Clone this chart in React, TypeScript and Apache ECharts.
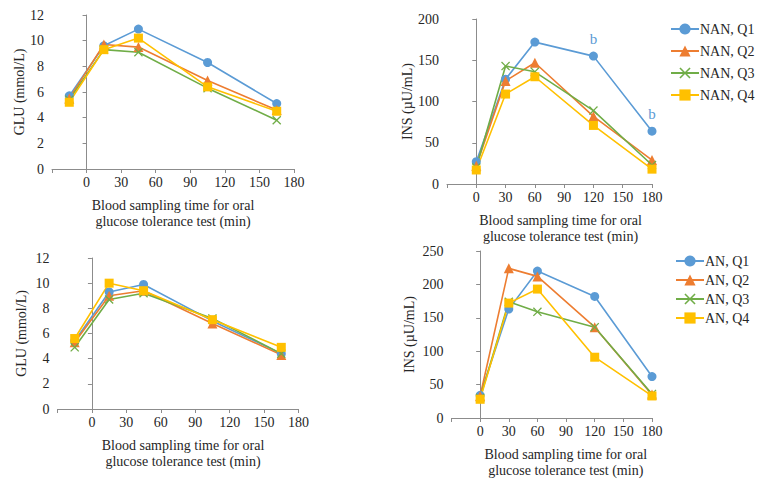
import React, { useEffect, useRef } from "react";
import * as echarts from "echarts";

// Sampling times as plotted
const glucoseTimes = [-15, 15, 45, 105, 165];
const insulinTimes = [0, 30, 60, 120, 180];

// Legend names
const nanNames = ["NAN, Q1", "NAN, Q2", "NAN, Q3", "NAN, Q4"];
const anNames = ["AN, Q1", "AN, Q2", "AN, Q3", "AN, Q4"];

// NAN glucose (mmol/L)
const nanGluQ1 = [5.7, 9.6, 10.9, 8.3, 5.1];
const nanGluQ2 = [5.5, 9.7, 9.5, 6.9, 4.6];
const nanGluQ3 = [5.4, 9.3, 9.1, 6.3, 3.8];
const nanGluQ4 = [5.2, 9.3, 10.2, 6.4, 4.5];

// NAN insulin (µU/mL)
const nanInsQ1 = [27, 127, 172, 155, 64];
const nanInsQ2 = [22, 125, 147, 82, 29];
const nanInsQ3 = [20, 143, 136, 89, 23];
const nanInsQ4 = [17, 109, 130, 71, 18];
const nanInsQ1Marks = ["", "", "", "b", "b"];

// AN glucose (mmol/L)
const anGluQ1 = [5.4, 9.3, 9.9, 7.0, 4.4];
const anGluQ2 = [5.3, 9.0, 9.4, 6.8, 4.3];
const anGluQ3 = [4.9, 8.7, 9.2, 7.2, 4.4];
const anGluQ4 = [5.6, 10.0, 9.4, 7.1, 4.9];

// AN insulin (µU/mL)
const anInsQ1 = [34, 163, 220, 182, 62];
const anInsQ2 = [33, 224, 212, 136, 35];
const anInsQ3 = [30, 174, 159, 136, 36];
const anInsQ4 = [28, 172, 193, 91, 33];

const COLORS = ["#5B9BD5", "#ED7D31", "#70AD47", "#FFC000"];
const XSYM =
  "path://M0,1L1,0L5,4L9,0L10,1L6,5L10,9L9,10L5,6L1,10L0,9L4,5Z";
const SYMBOLS = ["circle", "triangle", XSYM, "rect"];
const SIZES = [9, 10, 9, 9];
const FONT = "'Liberation Serif', 'Times New Roman', serif";
const TEXT = "#262626";
const AXIS = "#8c8c8c";

const xName = "Blood sampling time for oral\nglucose tolerance test (min)";

function makeSeries(
  name: string,
  idx: number,
  axisIdx: number,
  xs: number[],
  ys: number[],
  marks?: string[]
) {
  return {
    type: "line",
    name,
    xAxisIndex: axisIdx,
    yAxisIndex: axisIdx,
    symbol: SYMBOLS[idx],
    symbolSize: SIZES[idx],
    showAllSymbol: true,
    color: COLORS[idx],
    lineStyle: { width: 1.6, color: COLORS[idx] },
    itemStyle: { color: COLORS[idx] },
    data: xs.map((x, i) => {
      const item: any = { value: [x, ys[i]] };
      if (marks && marks[i]) {
        item.label = {
          show: true,
          formatter: marks[i],
          position: "top",
          distance: 5,
          color: COLORS[idx],
          fontFamily: FONT,
          fontSize: 15,
        };
      }
      return item;
    }),
  };
}

function xAxis(gridIndex: number, min: number, shift: number) {
  return {
    type: "value",
    gridIndex,
    min,
    max: 180,
    interval: 30,
    name: xName,
    nameLocation: "middle",
    nameGap: 28,
    nameTextStyle: {
      fontFamily: FONT,
      fontSize: 14,
      color: TEXT,
      lineHeight: 16,
      padding: [0, 0, 0, shift],
    },
    axisLine: { show: true, onZero: false, lineStyle: { color: AXIS, width: 1 } },
    axisTick: { show: true, length: 4, lineStyle: { color: AXIS } },
    splitLine: { show: false },
    axisLabel: {
      fontFamily: FONT,
      fontSize: 14,
      color: TEXT,
      margin: 6,
      formatter: (v: number) => (v < 0 ? "" : String(v)),
    },
  };
}

function yAxis(gridIndex: number, max: number, interval: number, name: string, gap: number) {
  return {
    type: "value",
    gridIndex,
    min: 0,
    max,
    interval,
    name,
    nameLocation: "middle",
    nameGap: gap,
    nameTextStyle: { fontFamily: FONT, fontSize: 14, color: TEXT },
    axisLine: { show: true, lineStyle: { color: AXIS, width: 1 } },
    axisTick: { show: true, length: 4, lineStyle: { color: AXIS } },
    splitLine: { show: false },
    axisLabel: { fontFamily: FONT, fontSize: 14, color: TEXT, margin: 8 },
  };
}

export default function App() {
  const ref = useRef<HTMLDivElement>(null);
  useEffect(() => {
    if (!ref.current) return;
    const chart = echarts.init(ref.current, null, { renderer: "svg" });
    const option: any = {
      animation: false,
      backgroundColor: "#ffffff",
      textStyle: { fontFamily: FONT },
      grid: [
        { left: 52, top: 15, width: 242, height: 154 },
        { left: 447, top: 19, width: 205, height: 165 },
        { left: 57.5, top: 258, width: 241, height: 151 },
        { left: 451.5, top: 251, width: 200.5, height: 167 },
      ],
      xAxis: [
        xAxis(0, -30, 0),
        xAxis(1, -30, 22),
        xAxis(2, -30, 10),
        xAxis(3, -30, 28),
      ],
      yAxis: [
        yAxis(0, 12, 2, "GLU (mmol/L)", 25),
        yAxis(1, 200, 50, "INS (µU/mL)", 31),
        yAxis(2, 12, 2, "GLU (mmol/L)", 29),
        yAxis(3, 250, 50, "INS (µU/mL)", 35),
      ],
      legend: [
        {
          data: nanNames,
          orient: "vertical",
          left: 665,
          top: 17,
          itemWidth: 28,
          itemHeight: 14,
          itemGap: 8,
          textStyle: {
            fontFamily: FONT,
            fontSize: 14,
            color: TEXT,
            lineHeight: 14,
            padding: [0, 0, 0, -4],
          },
        },
        {
          data: anNames,
          orient: "vertical",
          left: 670,
          top: 249,
          itemWidth: 28,
          itemHeight: 14,
          itemGap: 5,
          textStyle: {
            fontFamily: FONT,
            fontSize: 14,
            color: TEXT,
            lineHeight: 14,
            padding: [0, 0, 0, -4],
          },
        },
      ],
      series: [
        makeSeries(nanNames[0], 0, 0, glucoseTimes, nanGluQ1),
        makeSeries(nanNames[1], 1, 0, glucoseTimes, nanGluQ2),
        makeSeries(nanNames[2], 2, 0, glucoseTimes, nanGluQ3),
        makeSeries(nanNames[3], 3, 0, glucoseTimes, nanGluQ4),
        makeSeries(nanNames[0], 0, 1, insulinTimes, nanInsQ1, nanInsQ1Marks),
        makeSeries(nanNames[1], 1, 1, insulinTimes, nanInsQ2),
        makeSeries(nanNames[2], 2, 1, insulinTimes, nanInsQ3),
        makeSeries(nanNames[3], 3, 1, insulinTimes, nanInsQ4),
        makeSeries(anNames[0], 0, 2, glucoseTimes, anGluQ1),
        makeSeries(anNames[1], 1, 2, glucoseTimes, anGluQ2),
        makeSeries(anNames[2], 2, 2, glucoseTimes, anGluQ3),
        makeSeries(anNames[3], 3, 2, glucoseTimes, anGluQ4),
        makeSeries(anNames[0], 0, 3, insulinTimes, anInsQ1),
        makeSeries(anNames[1], 1, 3, insulinTimes, anInsQ2),
        makeSeries(anNames[2], 2, 3, insulinTimes, anInsQ3),
        makeSeries(anNames[3], 3, 3, insulinTimes, anInsQ4),
      ],
    };
    chart.setOption(option);
    return () => chart.dispose();
  }, []);
  return (
    <div
      ref={ref}
      style={{ position: "absolute", left: 0, top: 0, width: 759, height: 485 }}
    />
  );
}
